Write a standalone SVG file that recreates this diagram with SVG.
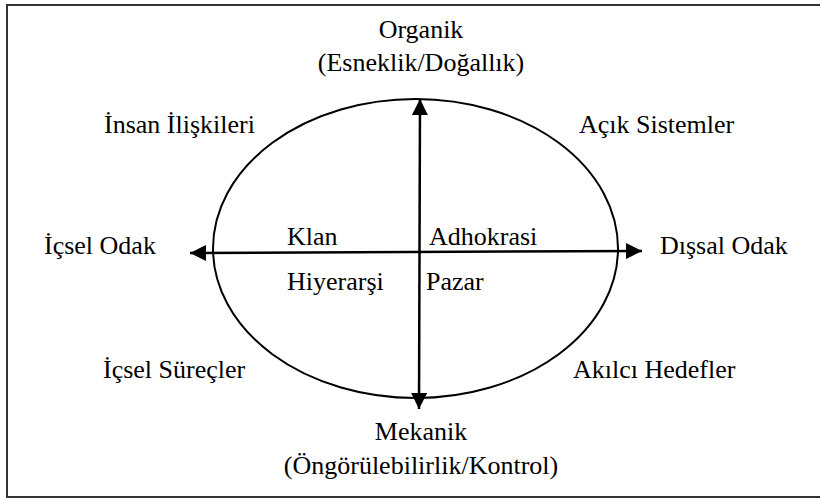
<svg xmlns="http://www.w3.org/2000/svg" width="820" height="498" viewBox="0 0 820 498">
  <style>
    .lbl { font-family: "Liberation Serif", "Times New Roman", serif; font-size: 26px; fill: #000; }
    .mid { text-anchor: middle; }
    .frame { fill: none; stroke: #333; stroke-width: 2; }
    .ring { fill: none; stroke: #000; stroke-width: 2; }
    .axis { fill: none; stroke: #000; stroke-width: 2.5; marker-start: url(#head); marker-end: url(#head); }
  </style>
  <defs>
    <marker id="head" viewBox="0 0 10 10" refX="10" refY="5" markerWidth="16" markerHeight="16" markerUnits="userSpaceOnUse" orient="auto-start-reverse">
      <path d="M0,0 L10,5 L0,10 Z" fill="#000"/>
    </marker>
  </defs>

  <!-- outer frame -->
  <rect class="frame" x="7" y="5" width="820" height="492"/>

  <!-- central ellipse -->
  <g id="ellipse">
    <ellipse class="ring" cx="415.5" cy="248.5" rx="202.5" ry="149.5"/>
  </g>

  <!-- axes -->
  <g id="connectors">
    <line class="axis" x1="190" y1="253" x2="642" y2="251"/>
    <line class="axis" x1="419" y1="409" x2="420" y2="99"/>
  </g>

  <!-- poles -->
  <g id="organik">
    <text class="lbl mid" x="421" y="38">Organik</text>
    <text class="lbl mid" x="421" y="71">(Esneklik/Doğallık)</text>
  </g>
  <g id="mekanik">
    <text class="lbl mid" x="421" y="440">Mekanik</text>
    <text class="lbl mid" x="421" y="474">(Öngörülebilirlik/Kontrol)</text>
  </g>
  <g id="icsel-odak">
    <text class="lbl" x="44" y="254">İçsel Odak</text>
  </g>
  <g id="dissal-odak">
    <text class="lbl" x="660" y="254">Dışsal Odak</text>
  </g>

  <!-- model names -->
  <g id="insan-iliskileri">
    <text class="lbl" x="104" y="133">İnsan İlişkileri</text>
  </g>
  <g id="acik-sistemler">
    <text class="lbl" x="579" y="133">Açık Sistemler</text>
  </g>
  <g id="icsel-surecler">
    <text class="lbl" x="103" y="378">İçsel Süreçler</text>
  </g>
  <g id="akilci-hedefler">
    <text class="lbl" x="573" y="378">Akılcı Hedefler</text>
  </g>

  <!-- culture types -->
  <g id="klan">
    <text class="lbl" x="287" y="245">Klan</text>
  </g>
  <g id="adhokrasi">
    <text class="lbl" x="429" y="245">Adhokrasi</text>
  </g>
  <g id="hiyerarsi">
    <text class="lbl" x="287" y="290">Hiyerarşi</text>
  </g>
  <g id="pazar">
    <text class="lbl" x="426" y="290">Pazar</text>
  </g>
</svg>
